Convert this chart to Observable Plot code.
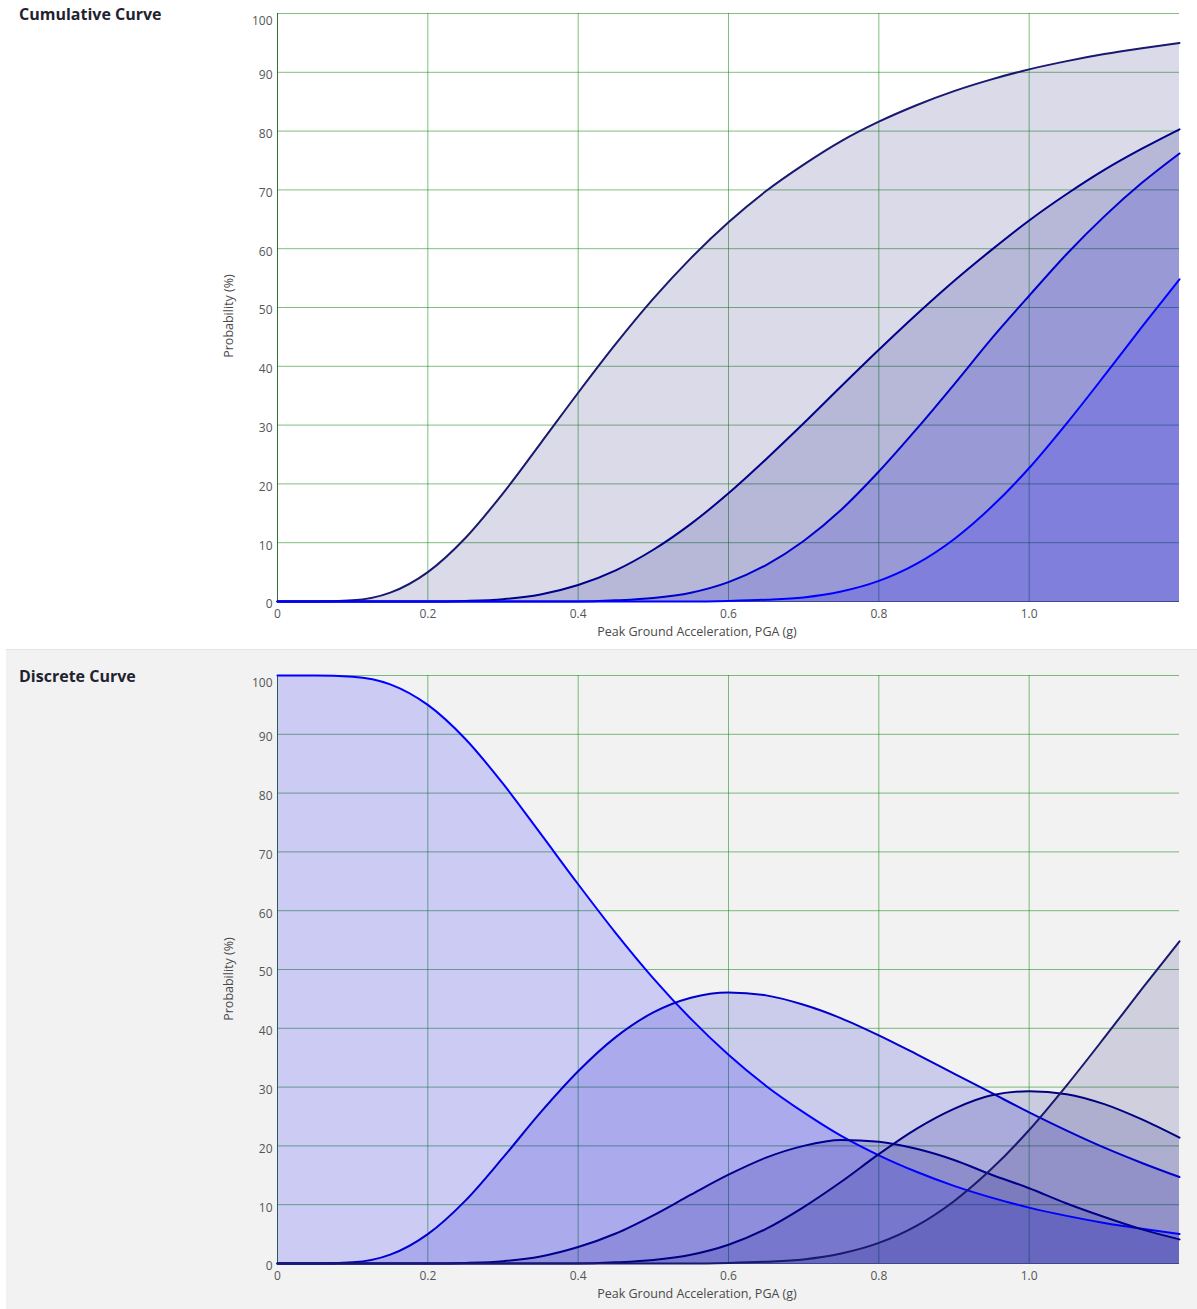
<!DOCTYPE html>
<html>
<head>
<meta charset="utf-8">
<script src="https://cdn.jsdelivr.net/npm/d3@7"></script>
<script src="https://cdn.jsdelivr.net/npm/@observablehq/plot@0.6"></script>
<style>
  html, body { margin: 0; padding: 0; }
  body { width: 1197px; height: 1309px; position: relative; background: #ffffff; font-family: "Open Sans", "Noto Sans", sans-serif; overflow: hidden; }
  .panel { position: absolute; }
  .title { position: absolute; left: 19px; font-weight: 700; font-size: 16px; color: #1f2330; }
  .xlabel { position: absolute; font-size: 12.5px; color: #4a4a4a; white-space: nowrap; transform: translateX(-50%); }
  .ylabel { position: absolute; font-size: 12.5px; color: #4a4a4a; white-space: nowrap; transform: translate(-50%, -50%) rotate(-90deg); }
  svg { position: absolute; left: 0; top: 0; }
</style>
</head>
<body>
<div class="panel" id="top" style="left:0;top:0;width:1197px;height:645px;">
  <div class="title" style="top:3px;">Cumulative Curve</div>
  <div class="ylabel" style="left:228px;top:316px;">Probability (%)</div>
  <div class="xlabel" style="left:697px;top:623px;">Peak Ground Acceleration, PGA (g)</div>
</div>
<div class="panel" id="bottom" style="left:6px;top:649px;width:1191px;height:660px;background:#f2f2f2;border-top:1px solid #e4e4e4;">
  <div class="title" style="top:15px;left:13px;">Discrete Curve</div>
  <div class="ylabel" style="left:222px;top:329px;">Probability (%)</div>
  <div class="xlabel" style="left:691px;top:635px;">Peak Ground Acceleration, PGA (g)</div>
</div>
<script>
// PGA sample points (g)
const pga = [0, 0.05, 0.1, 0.15, 0.2, 0.25, 0.3, 0.35, 0.4, 0.45, 0.5, 0.55, 0.6, 0.65, 0.7, 0.75, 0.8, 0.85, 0.9, 0.95, 1.0, 1.05, 1.1, 1.15, 1.2];

// Cumulative curve (probability of reaching or exceeding each damage state, %)
const cumSlight    = [0, 0, 0.2, 1.5, 5.0, 10.8, 18.4, 26.9, 35.5, 43.8, 51.5, 58.4, 64.5, 69.8, 74.3, 78.3, 81.6, 84.4, 86.8, 88.8, 90.5, 91.9, 93.1, 94.1, 95.0];
const cumModerate  = [0, 0, 0, 0, 0, 0.1, 0.4, 1.2, 2.8, 5.3, 8.8, 13.2, 18.4, 24.2, 30.3, 36.6, 42.8, 48.8, 54.5, 59.8, 64.8, 69.3, 73.4, 77.0, 80.3];
const cumExtensive = [0, 0, 0, 0, 0, 0, 0, 0, 0, 0.2, 0.6, 1.5, 3.3, 6.2, 10.3, 15.6, 22.1, 29.3, 36.9, 44.7, 52.0, 59.1, 65.5, 71.2, 76.2];
const cumComplete  = [0, 0, 0, 0, 0, 0, 0, 0, 0, 0, 0, 0, 0.1, 0.3, 0.7, 1.7, 3.5, 6.4, 10.6, 16.1, 22.7, 30.3, 38.4, 46.7, 54.8];

// Discrete curve (probability of being in each damage state, %)
const discNone      = [100, 100, 99.8, 98.5, 95.0, 89.2, 81.6, 73.1, 64.5, 56.2, 48.5, 41.6, 35.5, 30.2, 25.7, 21.7, 18.4, 15.6, 13.2, 11.2, 9.5, 8.1, 6.9, 5.9, 5.0];
const discSlight    = [0, 0, 0.2, 1.5, 5.0, 10.7, 18.0, 25.7, 32.7, 38.5, 42.7, 45.2, 46.1, 45.6, 44.0, 41.7, 38.8, 35.6, 32.3, 29.0, 25.7, 22.6, 19.7, 17.1, 14.7];
const discModerate  = [0, 0, 0, 0, 0, 0.1, 0.4, 1.2, 2.8, 5.1, 8.2, 11.7, 15.1, 18.0, 20.0, 21.0, 20.7, 19.5, 17.6, 15.1, 12.8, 10.2, 7.9, 5.8, 4.1];
const discExtensive = [0, 0, 0, 0, 0, 0, 0, 0, 0, 0.2, 0.6, 1.5, 3.2, 5.9, 9.6, 13.9, 18.6, 22.9, 26.3, 28.6, 29.3, 28.8, 27.1, 24.5, 21.4];
const discComplete  = [0, 0, 0, 0, 0, 0, 0, 0, 0, 0, 0, 0, 0.1, 0.3, 0.7, 1.7, 3.5, 6.4, 10.6, 16.1, 22.7, 30.3, 38.4, 46.7, 54.8];

const xTicks = [0, 0.2, 0.4, 0.6, 0.8, 1.0];
const yTicks = [0, 10, 20, 30, 40, 50, 60, 70, 80, 90, 100];

const cumSeries = [
  {name: "Slight", values: cumSlight, color: "#191970"},
  {name: "Moderate", values: cumModerate, color: "#00008b"},
  {name: "Extensive", values: cumExtensive, color: "#0000cd"},
  {name: "Complete", values: cumComplete, color: "#0000ff"}
];
const discSeries = [
  {name: "None", values: discNone, color: "#0000ff"},
  {name: "Slight", values: discSlight, color: "#0000cd"},
  {name: "Moderate", values: discModerate, color: "#00008b"},
  {name: "Extensive", values: discExtensive, color: "#000080"},
  {name: "Complete", values: discComplete, color: "#191970"}
];

function toRows(series) {
  return series.flatMap(s => s.values.map((v, i) => ({pga: pga[i], p: v, name: s.name})));
}

const fmtX = d => d === 0 ? "0" : d.toFixed(1);

function makeChart(series, opts) {
  const rows = toRows(series);
  const marks = [
    Plot.gridY(yTicks, {stroke: "#008000", strokeOpacity: 0.5, strokeWidth: 1}),
    Plot.gridX(xTicks, {stroke: "#008000", strokeOpacity: 0.5, strokeWidth: 1}),
    Plot.ruleX([0], {stroke: "#1f5a1f", strokeOpacity: 0.8}),
    ...series.map(s => Plot.areaY(rows.filter(r => r.name === s.name), {x: "pga", y: "p", fill: s.color, fillOpacity: 0.16, curve: "monotone-x"})),
    Plot.ruleY([0], {stroke: "#3a4a8a", strokeWidth: 1}),
    ...series.map(s => Plot.line(rows.filter(r => r.name === s.name), {x: "pga", y: "p", stroke: s.color, strokeWidth: 2, curve: "monotone-x"})),
    Plot.axisX({ticks: xTicks, tickFormat: fmtX, tickSize: 0, tickPadding: 8, label: null, fill: "#555"}),
    Plot.axisY({ticks: yTicks.filter(d => d < 100), tickSize: 0, tickPadding: 5, dy: 3, label: null, fill: "#555"}),
    Plot.axisY({ticks: [100], tickSize: 0, tickPadding: 5, dy: 8, label: null, fill: "#555"})
  ];
  return Plot.plot({
    width: opts.width,
    height: opts.height,
    marginLeft: opts.marginLeft,
    marginRight: 18,
    marginTop: opts.marginTop,
    marginBottom: opts.marginBottom,
    x: {domain: [0, 1.2]},
    y: {domain: [0, 100]},
    style: {background: "transparent", fontFamily: "'Open Sans', 'Noto Sans', sans-serif", fontSize: "12px", overflow: "visible"},
    marks
  });
}

document.getElementById("top").appendChild(makeChart(cumSeries, {width: 1197, height: 645, marginLeft: 277, marginTop: 13, marginBottom: 44}));
document.getElementById("bottom").appendChild(makeChart(discSeries, {width: 1191, height: 660, marginLeft: 271, marginTop: 25, marginBottom: 47}));
</script>
</body>
</html>
